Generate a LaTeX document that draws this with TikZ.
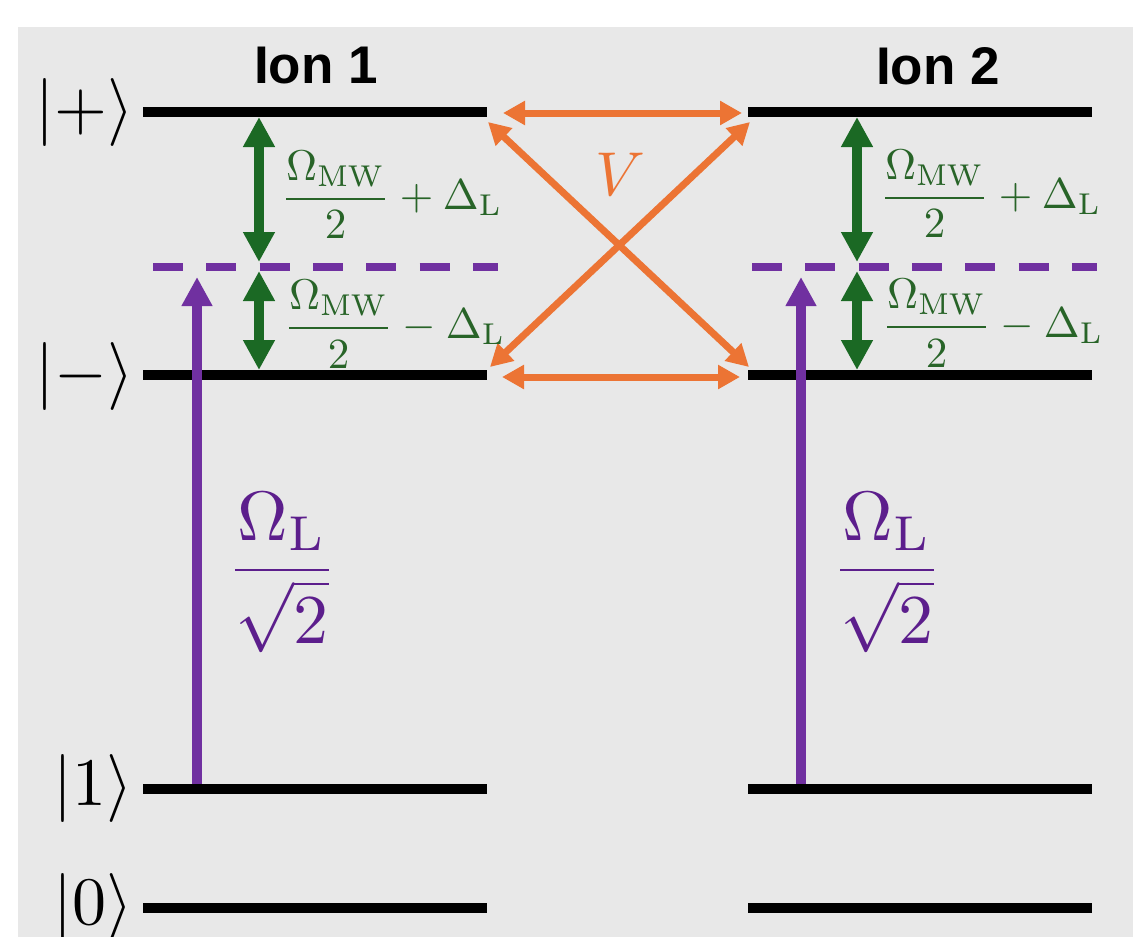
\documentclass[tikz,border=0pt]{standalone}
\usepackage{amsmath}
\usepackage[no-math]{fontspec}
\newfontfamily\ionfont{Liberation Sans}
\usetikzlibrary{arrows.meta}
\definecolor{bggray}{RGB}{232,232,232}
\definecolor{mwgreen}{RGB}{27,105,36}
\definecolor{txtgreen}{RGB}{40,100,40}
\definecolor{vorange}{RGB}{236,116,52}
\definecolor{lpurple}{RGB}{112,48,160}
\definecolor{txtpurple}{RGB}{92,30,140}
\begin{document}
\begin{tikzpicture}[x=1pt,y=-1pt,
  level/.style={line width=10pt,black},
  virt/.style={line width=8pt,lpurple,dash pattern=on 30pt off 23.3pt},
  mwarrow/.style={line width=9.5pt,mwgreen,{Triangle[length=30pt,width=30pt]}-{Triangle[length=30pt,width=30pt]}},
  laser/.style={line width=10pt,lpurple,-{Triangle[length=29pt,width=29pt]}},
  coup/.style={line width=7pt,vorange,{Triangle[length=22pt,width=23pt]}-{Triangle[length=22pt,width=23pt]}},
  ket/.style={inner sep=0pt,scale=6.8,transform shape},
  ionlbl/.style={inner sep=0pt,anchor=base,font=\ionfont\bfseries\fontsize{53}{60}\selectfont},
  mwlbl/.style={inner sep=0pt,anchor=base west,text=txtgreen,scale=4.3,transform shape},
  laslbl/.style={inner sep=0pt,anchor=base,text=txtpurple,scale=7,transform shape},
  vlbl/.style={inner sep=0pt,anchor=base,text=vorange,scale=6.2,transform shape}]
\useasboundingbox (0,0) rectangle (1133,937);
\fill[bggray] (18,27) rectangle (1133,937);

% energy levels
\draw[level] (143,112) -- (487,112);
\draw[level] (143,375) -- (487,375);
\draw[level] (143,789) -- (487,789);
\draw[level] (143,908) -- (487,908);
\draw[level] (748,112) -- (1092,112);
\draw[level] (748,375) -- (1092,375);
\draw[level] (748,789) -- (1092,789);
\draw[level] (748,908) -- (1092,908);
% virtual levels
\draw[virt] (153,267) -- (498,267);
\draw[virt] (752,267) -- (1097,267);

% labels
\node[ket] (kp) at (85,112) {$|+\rangle$};
\node[ket] (km) at (85,376) {$|-\rangle$};
\node[ket] (k1) at (93,788) {$|1\rangle$};
\node[ket] (k0) at (93,907) {$|0\rangle$};
\node[ionlbl] (ion1) at (316,83) {Ion 1};
\node[ionlbl] (ion2) at (938,84) {Ion 2};

% coordinates for arrows
\coordinate (a1t) at (259,117);
\coordinate (a1m) at (259,262);
\coordinate (a1n) at (259,271);
\coordinate (a1b) at (259,370);
\coordinate (a2t) at (857,117);
\coordinate (a2m) at (857,262);
\coordinate (a2n) at (857,271);
\coordinate (a2b) at (857,370);
\coordinate (l1b) at (197,784);
\coordinate (l1t) at (197,277);
\coordinate (l2b) at (801,784);
\coordinate (l2t) at (801,277);
\coordinate (htl) at (503,113);
\coordinate (htr) at (742,113);
\coordinate (hbl) at (502,377);
\coordinate (hbr) at (740,377);
\coordinate (dtl) at (488,122);
\coordinate (dtr) at (750,122);
\coordinate (dbl) at (490,367);
\coordinate (dbr) at (749,367);

% microwave arrows
\draw[mwarrow] (a1t) -- (a1m);
\draw[mwarrow] (a1n) -- (a1b);
\draw[mwarrow] (a2t) -- (a2m);
\draw[mwarrow] (a2n) -- (a2b);
% laser arrows
\draw[laser] (l1b) -- (l1t);
\draw[laser] (l2b) -- (l2t);
% coupling arrows
\draw[coup] (htl) -- (htr);
\draw[coup] (hbl) -- (hbr);
\draw[coup] (dtl) -- (dbr);
\draw[coup] (dtr) -- (dbl);

% transition labels
\node[mwlbl] (m1u) at (280,209.5) {$\dfrac{\Omega_{\mathrm{MW}}}{2}+\Delta_{\mathrm{L}}$};
\node[mwlbl] (m1l) at (283,338.5) {$\dfrac{\Omega_{\mathrm{MW}}}{2}-\Delta_{\mathrm{L}}$};
\node[mwlbl] (m2u) at (879,208.5) {$\dfrac{\Omega_{\mathrm{MW}}}{2}+\Delta_{\mathrm{L}}$};
\node[mwlbl] (m2l) at (881,337.5) {$\dfrac{\Omega_{\mathrm{MW}}}{2}-\Delta_{\mathrm{L}}$};
\node[laslbl] (o1) at (282,587.5) {$\dfrac{\Omega_{\mathrm{L}}}{\sqrt{2}}$};
\node[laslbl] (o2) at (887,587.5) {$\dfrac{\Omega_{\mathrm{L}}}{\sqrt{2}}$};
\node[vlbl] (vv) at (620,195) {$V$};
\end{tikzpicture}
\end{document}
